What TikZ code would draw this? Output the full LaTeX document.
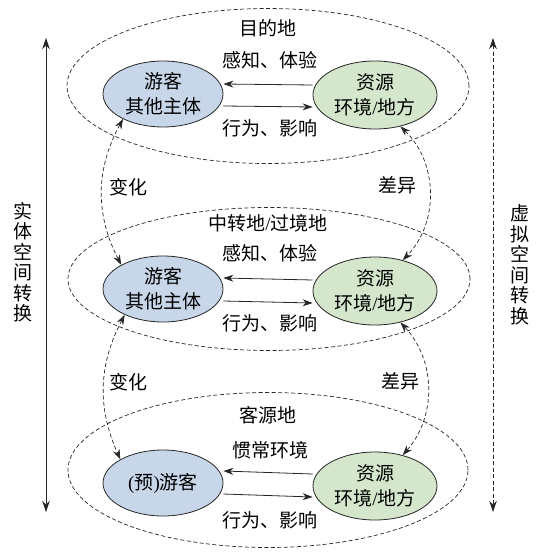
\documentclass[tikz,border=0pt]{standalone}
\usepackage{fontspec}
\setmainfont{Liberation Serif}
\newfontfamily\cjk{Noto Sans CJK SC}
\usetikzlibrary{arrows.meta,shapes.geometric}
\definecolor{blueF}{HTML}{C8D6EA}
\definecolor{greenF}{HTML}{D4E6CC}
\begin{document}
\begin{tikzpicture}[x=1pt,y=-1pt,
  every node/.style={font=\cjk\fontsize{19}{25}\selectfont, align=center, inner sep=0pt},
  region/.style={draw=black!85, ellipse, line width=0.7pt, dash pattern=on 4pt off 2.5pt},
  tourist/.style={draw=black!85, ellipse, fill=blueF, minimum width=120pt, minimum height=66pt, line width=0.8pt},
  resource/.style={draw=black!85, ellipse, fill=greenF, minimum width=124pt, minimum height=68pt, line width=0.8pt},
  flow/.style={-{Stealth[length=10pt,width=7pt]}, line width=0.8pt, draw=black!85},
  link/.style={{Stealth[length=10pt,width=7pt]}-{Stealth[length=10pt,width=7pt]}, line width=0.7pt, dash pattern=on 4pt off 2.5pt, draw=black!85},
  axis/.style={{Stealth[length=11pt,width=7.5pt]}-{Stealth[length=11pt,width=7.5pt]}, line width=0.8pt, draw=black!85},
  vlabel/.style={font=\cjk\fontsize{19}{20.5}\selectfont},
]
\useasboundingbox (0,0) rectangle (539,556);

% region ellipses
\node[region, minimum width=402pt, minimum height=155pt] (r1) at (268,86) {};
\node[region, minimum width=402pt, minimum height=143pt] (r2) at (269,279) {};
\node[region, minimum width=400pt, minimum height=155pt] (r3) at (268,470) {};

% region titles and labels
\node (t1) at (268,28) {目的地};
\node (p1) at (270,60) {感知、体验};
\node (a1) at (270,128) {行为、影响};
\node (t2) at (268,223) {中转地{\rmfamily/}过境地};
\node (p2) at (270,253) {感知、体验};
\node (a2) at (270,323) {行为、影响};
\node (t3) at (268,415) {客源地};
\node (p3) at (270,450) {惯常环境};
\node (a3) at (270,520) {行为、影响};

% actor nodes
\node[tourist] (b1) at (163,94) {游客\\其他主体};
\node[resource] (g1) at (375,95) {资源\\环境{\rmfamily/}地方};
\node[tourist] (b2) at (163,289) {游客\\其他主体};
\node[resource] (g2) at (375,291) {资源\\环境{\rmfamily/}地方};
\node[tourist] (b3) at (163,483) {{\rmfamily(}预{\rmfamily)}游客};
\node[resource] (g3) at (375,486) {资源\\环境{\rmfamily/}地方};

% horizontal flows
\draw[flow] ([yshift=10pt]g1.west) -- ([yshift=10pt]b1.east);
\draw[flow] ([yshift=-12pt]b1.east) -- ([yshift=-12pt]g1.west);
\draw[flow] ([yshift=11pt]g2.west) -- ([yshift=11pt]b2.east);
\draw[flow] ([yshift=-12pt]b2.east) -- ([yshift=-12pt]g2.west);
\draw[flow] ([yshift=12pt]g3.west) -- ([yshift=12pt]b3.east);
\draw[flow] ([yshift=-11pt]b3.east) -- ([yshift=-11pt]g3.west);

% inter-level dashed links
\draw[link] (b1.212) to[bend right=28] (b2.150);
\draw[link] (b2.214) to[bend right=26] (b3.151);
\draw[link] (g1.309) to[bend left=45] (g2.48);
\draw[link] (g2.309) to[bend left=42] (g3.48);
\node (c1) at (128,187) {变化};
\node (c2) at (128,382) {变化};
\node (d1) at (397,185) {差异};
\node (d2) at (400,381) {差异};

% side axes
\coordinate (Lt) at (46,38);
\coordinate (Lb) at (46,512);
\coordinate (Rt) at (493,38);
\coordinate (Rb) at (493,512);
\draw[axis] (Lt) -- (Lb);
\draw[axis, dash pattern=on 4pt off 2.5pt] (Rt) -- (Rb);
\node[vlabel] (sl) at (23,262) {实\\体\\空\\间\\转\\换};
\node[vlabel] (sr) at (520,265) {虚\\拟\\空\\间\\转\\换};
\end{tikzpicture}
\end{document}
